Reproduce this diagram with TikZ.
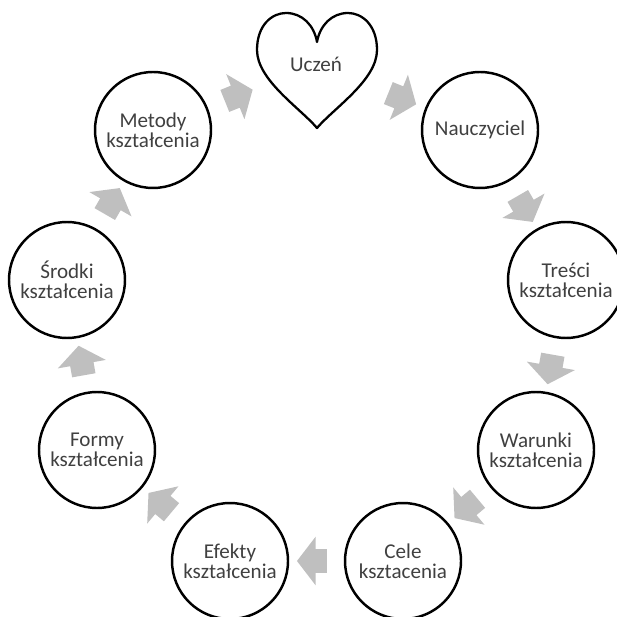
\documentclass[tikz,border=0pt]{standalone}
\usepackage{fontspec}
\setmainfont{Carlito}
\usetikzlibrary{shapes.arrows, calc}

\begin{document}
\begin{tikzpicture}[
  x=0.02cm, y=-0.02cm,
  stage/.style = {circle, draw=black, line width=1.4pt, minimum size=2.32cm,
                  inner sep=0pt, align=center, text=black!75,
                  font=\fontsize{12}{11.5}\selectfont},
  heartline/.style = {draw=black, line width=1.3pt, line join=round},
  flow/.style  = {single arrow, fill=black!25, draw=none, inner sep=0pt,
                  inner ysep=0.23cm, minimum width=0.76cm, minimum height=0.6cm,
                  single arrow tip angle=105},
  lbl/.style   = {text=black!75, font=\fontsize{12}{11.5}\selectfont}
]
\useasboundingbox (0,0) rectangle (616,617);

% ---- HEART: Uczen ----
\draw[heartline] (317,128)
  .. controls (300,108) and (257,80) .. (257,50)
  .. controls (257,25) and (272,13) .. (286,13)
  .. controls (302,13) and (314,25) .. (317,42)
  .. controls (320,25) and (332,13) .. (348,13)
  .. controls (362,13) and (377,25) .. (377,50)
  .. controls (377,80) and (334,108) .. (317,128) -- cycle;
\node[lbl] (uczen) at (316,64) {Uczeń};

% ---- CIRCLES ----
\node[stage] (nauczyciel) at (480,130) {Nauczyciel};
\node[stage] (tresci)     at (566,280) {Treści\\kształcenia};
\node[stage] (warunki)    at (536,450) {Warunki\\kształcenia};
\node[stage] (cele)       at (403,561) {Cele\\ksztacenia};
\node[stage] (efekty)     at (230,561) {Efekty\\kształcenia};
\node[stage] (formy)      at (97,450)  {Formy\\kształcenia};
\node[stage] (srodki)     at (67,280)  {Środki\\kształcenia};
\node[stage] (metody)     at (153,130) {Metody\\kształcenia};

% ---- ARROWS ----
\node[flow, rotate=-22]  (a1) at ($(uczen)!0.5!(nauczyciel)$) {};
\node[flow, rotate=-60]  (a2) at ($(nauczyciel)!0.5!(tresci)$) {};
\node[flow, rotate=-100] (a3) at ($(tresci)!0.5!(warunki)$) {};
\node[flow, rotate=-140] (a4) at ($(warunki)!0.5!(cele)$) {};
\node[flow, rotate=180]  (a5) at ($(cele)!0.5!(efekty)$) {};
\node[flow, rotate=140]  (a6) at ($(efekty)!0.5!(formy)$) {};
\node[flow, rotate=100]  (a7) at ($(formy)!0.5!(srodki)$) {};
\node[flow, rotate=60]   (a8) at ($(srodki)!0.5!(metody)$) {};
\node[flow, rotate=22]   (a9) at ($(metody)!0.5!(uczen)$) {};

\end{tikzpicture}
\end{document}
